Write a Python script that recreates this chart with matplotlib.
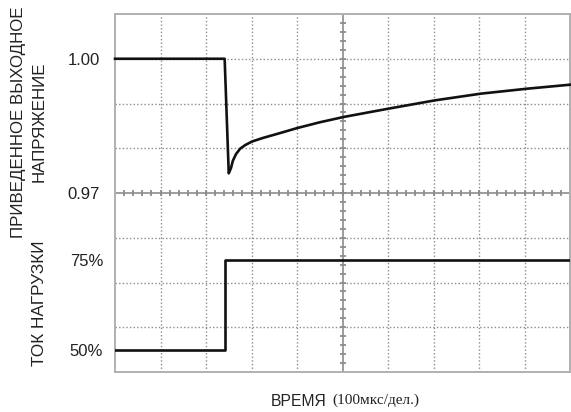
import numpy as np
import matplotlib
matplotlib.use("Agg")
import matplotlib.pyplot as plt

# ---------- данные (время в мкс) ----------
time_v = [0, 241, 250, 255, 259, 266, 275, 286, 301, 325, 363, 400, 450, 503, 604, 703, 804, 905, 1000]
voltage = [1.000, 1.000, 0.9744, 0.9756, 0.9772, 0.9787, 0.9799, 0.9807, 0.9815, 0.9823, 0.9834,
           0.9845, 0.9858, 0.9870, 0.9889, 0.9907, 0.9922, 0.9933, 0.9942]

time_i = [0, 242, 1000]
load_current = [50, 75, 75]

v_ticks = [1.00, 0.97]
v_labels = ["1.00", "0.97"]
i_ticks = [75, 50]
i_labels = ["75%", "50%"]

plt.rcParams['font.family'] = ['Liberation Sans', 'DejaVu Sans']

W, H = 571, 412
fig = plt.figure(figsize=(W / 100, H / 100), dpi=100)
rect = [115 / W, 40 / H, 455 / W, 358 / H]

ax_v = fig.add_axes(rect)
ax_i = fig.add_axes(rect)

ax_v.set_xlim(0, 1000)
ax_v.set_ylim(0.93, 1.01)
ax_i.set_xlim(0, 1000)
ax_i.set_ylim(43.75, 143.75)

grid_col = "#8c8c8c"
dots = (0, (1, 1.6))
# сетка осциллографа 10 x 8 делений
for k in range(1, 10):
    x = k * 100
    if k == 5:
        ax_v.axvline(x, color=grid_col, lw=1.2, zorder=1)
    else:
        ax_v.axvline(x, color=grid_col, lw=1.0, ls=dots, zorder=1)
for k in range(1, 8):
    y = 0.93 + k * 0.01
    if k == 4:
        ax_v.axhline(y, color=grid_col, lw=1.2, zorder=1)
    else:
        ax_v.axhline(y, color=grid_col, lw=1.0, ls=dots, zorder=1)

# мелкие деления на центральных линиях
xm = np.arange(20, 1000, 20)
ax_v.plot(xm, np.full_like(xm, 0.97, dtype=float), ls="none", marker="|", ms=4,
          mew=1.3, color=grid_col, zorder=1)
ym = np.arange(0.932, 1.0095, 0.002)
ax_v.plot(np.full_like(ym, 500), ym, ls="none", marker="_", ms=4,
          mew=1.3, color=grid_col, zorder=1)

ax_v.plot(time_v, voltage, color="#111111", lw=1.9, zorder=3, clip_on=False)
ax_i.plot(time_i, load_current, color="#111111", lw=1.9, drawstyle="steps-post", zorder=3)

for s in ax_v.spines.values():
    s.set_color("#b0b0b0")
    s.set_linewidth(1.4)
for s in ax_i.spines.values():
    s.set_visible(False)
ax_i.patch.set_visible(False)

ax_v.set_xticks([])
ax_i.set_xticks([])
ax_v.set_yticks(v_ticks)
ax_v.set_yticklabels(v_labels)
ax_i.set_yticks(i_ticks)
ax_i.set_yticklabels(i_labels)
ax_v.tick_params(axis="y", length=0, pad=11, labelsize=12, labelcolor="#222222")
ax_i.tick_params(axis="y", length=0, pad=8.5, labelsize=12, labelcolor="#222222")

fig.text(29 / W, 1 - 122 / H, "ПРИВЕДЕННОЕ ВЫХОДНОЕ\nНАПРЯЖЕНИЕ", rotation=90,
         ha="center", va="center", multialignment="center", fontsize=12.2,
         linespacing=1.42, color="#222222")
fig.text(40 / W, 1 - 303 / H, "ТОК НАГРУЗКИ", rotation=90, ha="center", va="center",
         fontsize=12.4, color="#222222")
fig.text(271 / W, 1 - 401 / H, "ВРЕМЯ", ha="left", va="center", fontsize=11.3, color="#222222")
fig.text(332 / W, 1 - 400 / H, "(100мкс/дел.)", ha="left", va="center", fontsize=11,
         family=["Liberation Serif", "DejaVu Serif"], color="#222222")

fig.savefig("out.png", dpi=100)
